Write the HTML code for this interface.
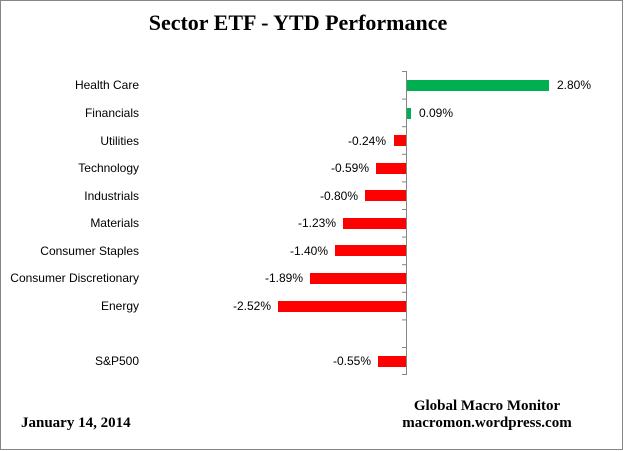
<!DOCTYPE html>
<html><head><style>
body{margin:0;background:#fff;}
svg{display:block;}
.l{font-family:"Liberation Sans",sans-serif;font-size:12px;fill:#000;}
.s{font-family:"Liberation Serif",serif;font-weight:bold;fill:#000;}
</style></head><body>
<svg width="626" height="451" xmlns="http://www.w3.org/2000/svg">
<rect x="0.5" y="0.5" width="622" height="449" fill="#fff" stroke="#868686"/>
<text class="s" x="298" y="30" font-size="22" text-anchor="middle">Sector ETF - YTD  Performance</text>
<g stroke="#868686" stroke-width="1">
<line x1="406.5" y1="71" x2="406.5" y2="375"/>
<line x1="402" y1="71.5" x2="406" y2="71.5"/>
<line x1="402" y1="99.1" x2="406" y2="99.1"/>
<line x1="402" y1="126.7" x2="406" y2="126.7"/>
<line x1="402" y1="154.3" x2="406" y2="154.3"/>
<line x1="402" y1="181.9" x2="406" y2="181.9"/>
<line x1="402" y1="209.5" x2="406" y2="209.5"/>
<line x1="402" y1="237.1" x2="406" y2="237.1"/>
<line x1="402" y1="264.7" x2="406" y2="264.7"/>
<line x1="402" y1="292.3" x2="406" y2="292.3"/>
<line x1="402" y1="319.9" x2="406" y2="319.9"/>
<line x1="402" y1="347.5" x2="406" y2="347.5"/>
<line x1="402" y1="374.5" x2="406" y2="374.5"/>
</g>
<g>
<rect x="407" y="80" width="142" height="11" fill="#00b050"/>
<rect x="407" y="108" width="4" height="11" fill="#00b050"/>
<rect x="394" y="135" width="12" height="11" fill="#ff0000"/>
<rect x="376" y="163" width="30" height="11" fill="#ff0000"/>
<rect x="365" y="190" width="41" height="11" fill="#ff0000"/>
<rect x="343" y="218" width="63" height="11" fill="#ff0000"/>
<rect x="335" y="245" width="71" height="11" fill="#ff0000"/>
<rect x="310" y="273" width="96" height="11" fill="#ff0000"/>
<rect x="278" y="301" width="128" height="11" fill="#ff0000"/>
<rect x="378" y="356" width="28" height="11" fill="#ff0000"/>
</g>
<g class="l" text-anchor="end">
<text x="139" y="89">Health Care</text>
<text x="139" y="117">Financials</text>
<text x="139" y="145">Utilities</text>
<text x="139" y="172">Technology</text>
<text x="139" y="200">Industrials</text>
<text x="139" y="227">Materials</text>
<text x="139" y="255">Consumer Staples</text>
<text x="139" y="282">Consumer Discretionary</text>
<text x="139" y="310">Energy</text>
<text x="139" y="365">S&amp;P500</text>
<text x="386" y="145">-0.24%</text>
<text x="369" y="172">-0.59%</text>
<text x="358" y="200">-0.80%</text>
<text x="336" y="227">-1.23%</text>
<text x="328" y="255">-1.40%</text>
<text x="303" y="282">-1.89%</text>
<text x="271" y="310">-2.52%</text>
<text x="371" y="365">-0.55%</text>
</g>
<g class="l">
<text x="557" y="89">2.80%</text>
<text x="419" y="117">0.09%</text>
</g>
<text class="s" x="21" y="427" font-size="15">January 14, 2014</text>
<text class="s" x="487" y="410" font-size="15" text-anchor="middle">Global Macro Monitor</text>
<text class="s" x="487" y="427" font-size="15" text-anchor="middle">macromon.wordpress.com</text>
</svg>
</body></html>
